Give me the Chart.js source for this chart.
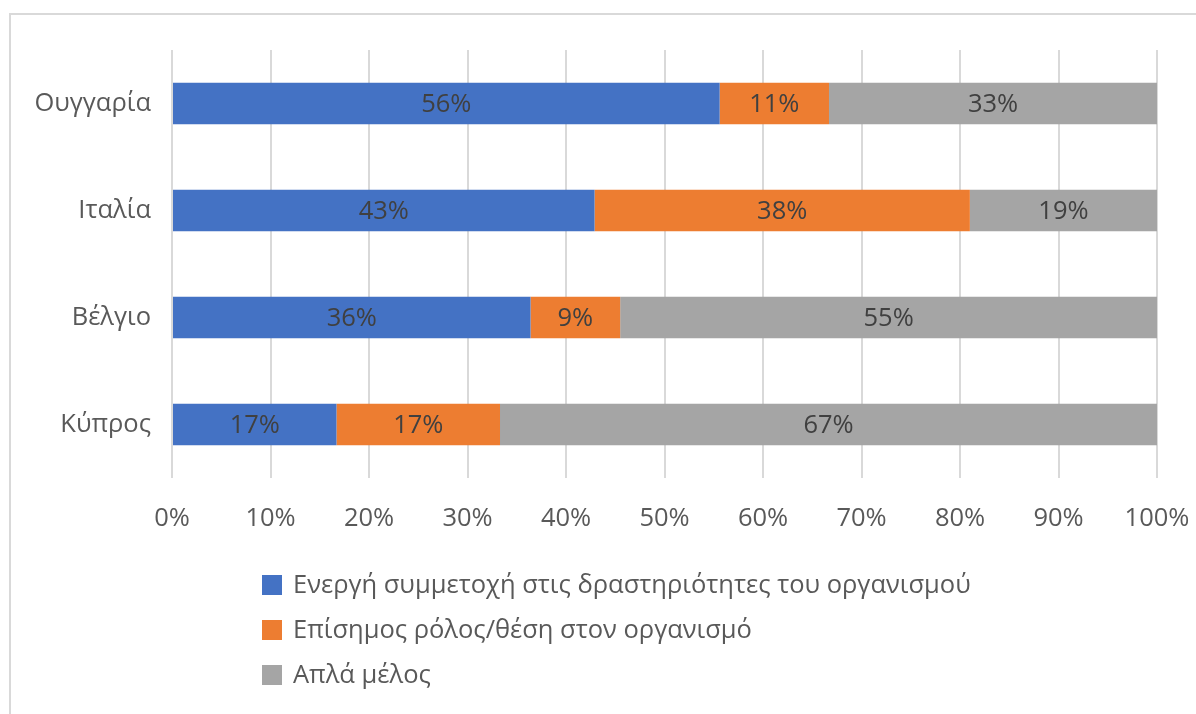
<!DOCTYPE html>
<html>
<head>
<meta charset="utf-8">
<script src="https://cdn.jsdelivr.net/npm/chart.js@4.4.1/dist/chart.umd.min.js"></script>
<style>
    html, body { margin: 0; padding: 0; background: #fff; overflow: hidden; }
    #wrap { position: relative; width: 1196px; height: 714px; }
    #frame { position: absolute; left: 9px; top: 13px; width: 1400px; height: 900px;
             border: 2px solid #d9d9d9; box-sizing: border-box; }
    canvas { position: absolute; left: 0; top: 0; }
</style>
</head>
<body>
<div id="wrap">
    <div id="frame"></div>
    <canvas id="roleChart" width="1196" height="714"></canvas>
</div>
<script>
        // Countries (top to bottom) and share of each type of participation (%)
        const countries = ['Ουγγαρία', 'Ιταλία', 'Βέλγιο', 'Κύπρος'];
        const seriesNames = [
            'Ενεργή συμμετοχή στις δραστηριότητες του οργανισμού',
            'Επίσημος ρόλος/θέση στον οργανισμό',
            'Απλά μέλος'
        ];
        const activeShare = [55.6, 42.9, 36.4, 16.7];
        const officialShare = [11.1, 38.1, 9.1, 16.6];
        const memberShare = [33.3, 19.0, 54.5, 66.7];
        const xTicks = [0, 10, 20, 30, 40, 50, 60, 70, 80, 90, 100];

        const colors = ['#4472C4', '#ED7D31', '#A5A5A5'];
        const fontFamily = '"Open Sans", "Noto Sans", sans-serif';
        const fontSize = 25.5;
        const textColor = '#595959';

        // value labels in the middle of each segment
        const segmentLabels = {
            id: 'segmentLabels',
            afterDatasetsDraw(chart) {
                const ctx = chart.ctx;
                ctx.save();
                ctx.font = fontSize + 'px ' + fontFamily;
                ctx.fillStyle = '#404040';
                ctx.textAlign = 'center';
                ctx.textBaseline = 'middle';
                chart.data.datasets.forEach((ds, i) => {
                    chart.getDatasetMeta(i).data.forEach((bar, j) => {
                        const p = bar.getCenterPoint();
                        ctx.fillText(Math.round(ds.data[j]) + '%', p.x, p.y + 1);
                    });
                });
                ctx.restore();
            }
        };

        // legend stacked one item per line, like the original
        const stackedLegend = {
            id: 'stackedLegend',
            afterDraw(chart) {
                const ctx = chart.ctx;
                const left = 262;
                const top = chart.chartArea.bottom + 107;
                ctx.save();
                ctx.font = fontSize + 'px ' + fontFamily;
                ctx.textBaseline = 'middle';
                chart.data.datasets.forEach((ds, i) => {
                    const y = top + i * 45;
                    ctx.fillStyle = ds.backgroundColor;
                    ctx.fillRect(left, y - 10, 20, 20);
                    ctx.fillStyle = textColor;
                    ctx.fillText(ds.label, left + 31, y + 1);
                });
                ctx.restore();
            }
        };

        const roleCtx = document.getElementById('roleChart').getContext('2d');
        new Chart(roleCtx, {
            type: 'bar',
            data: {
                labels: countries,
                datasets: [
                    { label: seriesNames[0], data: activeShare, backgroundColor: colors[0] },
                    { label: seriesNames[1], data: officialShare, backgroundColor: colors[1] },
                    { label: seriesNames[2], data: memberShare, backgroundColor: colors[2] }
                ]
            },
            options: {
                indexAxis: 'y',
                responsive: false,
                animation: false,
                layout: { padding: { top: 50, right: 39, left: 0, bottom: 156 } },
                datasets: {
                    bar: { categoryPercentage: 1, barPercentage: 0.39, borderWidth: 0 }
                },
                scales: {
                    x: {
                        stacked: true,
                        min: 0,
                        max: 100,
                        afterBuildTicks: (scale) => { scale.ticks = xTicks.map(v => ({ value: v })); },
                        afterFit: (scale) => {
                            scale.height = 80;
                            scale.paddingLeft = 0;
                            scale.paddingRight = 0;
                        },
                        grid: { color: '#d9d9d9', lineWidth: 2, drawTicks: false },
                        border: { display: false },
                        ticks: {
                            padding: 25,
                            color: textColor,
                            font: { family: fontFamily, size: fontSize }
                        ,
                            callback: (v) => v + '%'
                        }
                    },
                    y: {
                        stacked: true,
                        afterFit: (scale) => { scale.width = 172; },
                        grid: { display: false, drawTicks: false },
                        border: { display: false },
                        ticks: {
                            padding: 21,
                            color: textColor,
                            font: { family: fontFamily, size: fontSize }
                        }
                    }
                },
                plugins: {
                    legend: { display: false },
                    title: { display: false },
                    tooltip: { enabled: false }
                }
            },
            plugins: [segmentLabels, stackedLegend]
        });
</script>
</body>
</html>
